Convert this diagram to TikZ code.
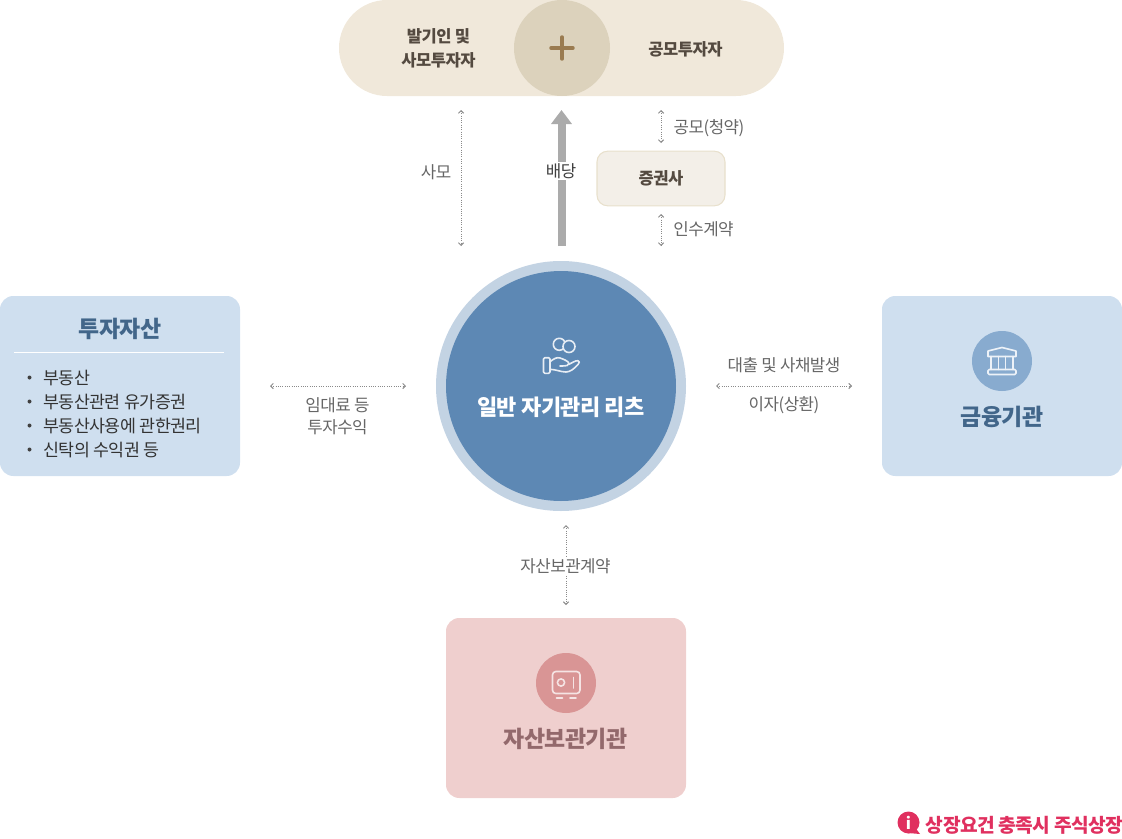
\documentclass[tikz,border=0pt]{standalone}
\usepackage{fontspec}
\setmainfont{Noto Sans CJK KR}[LetterSpace=-3]
\usetikzlibrary{arrows.meta}

\definecolor{pillbeige}{HTML}{F0E8DA}
\definecolor{plusbeige}{HTML}{DCD2BC}
\definecolor{plusbrown}{HTML}{9A7B50}
\definecolor{darktext}{HTML}{544A40}
\definecolor{graytext}{HTML}{666666}
\definecolor{dotgray}{HTML}{8A8A8A}
\definecolor{arrowgray}{HTML}{ABABAB}
\definecolor{brokerfill}{HTML}{F3EFE8}
\definecolor{brokerline}{HTML}{E8E0CC}
\definecolor{boxblue}{HTML}{CFDFEF}
\definecolor{ringblue}{HTML}{C3D3E3}
\definecolor{reitblue}{HTML}{5D88B4}
\definecolor{iconblue}{HTML}{88ABCF}
\definecolor{titleblue}{HTML}{42668A}
\definecolor{boxpink}{HTML}{EFCFCE}
\definecolor{iconpink}{HTML}{D99595}
\definecolor{titlepink}{HTML}{93696C}
\definecolor{notered}{HTML}{E0305F}

\tikzset{
	owner/.style={font=\fontsize{12.4}{18}\bfseries, text=darktext, align=center},
	flowlabel/.style={font=\fontsize{12.6}{16.5}\selectfont, text=graytext, align=center},
	listitem/.style={font=\fontsize{13}{14}\selectfont, text=black!80, anchor=west},
	bigbox/.style={minimum width=180pt, minimum height=135pt, rounded corners=10pt, inner sep=0pt},
	iconcircle/.style={circle, minimum size=45pt, inner sep=0pt},
	boxtitle/.style={font=\fontsize{17.2}{20}\bfseries},
	dotflow/.style={dotgray, line width=.7pt, densely dotted, {Straight Barb[length=2pt,width=4pt]}-{Straight Barb[length=2pt,width=4pt]}},
	iconline/.style={line width=1.2pt, line join=round, line cap=round}
}

\begin{document}
\begin{tikzpicture}[x=.75pt, y=-.75pt]

	\useasboundingbox (0,0) rectangle (1122,839);

	% investors
	\node[fill=pillbeige, minimum width=333.75pt, minimum height=72pt, rounded corners=36pt, inner sep=0pt] (investors) at (561.5,48) {};
	\node[fill=plusbeige, circle, minimum size=72pt, inner sep=0pt] (plus) at (562,48) {};
	\draw[plusbrown, line width=2.6pt, line cap=round] (551,48) -- (573,48);
	\draw[plusbrown, line width=2.6pt, line cap=round] (562,37) -- (562,59);
	\node[owner] (founders) at (438.5,48.5) {발기인 및\\사모투자자};
	\node[owner] (public) at (685.5,49) {공모투자자};

	% broker
	\node[fill=brokerfill, draw=brokerline, line width=.8pt, minimum width=96pt, minimum height=41pt, rounded corners=8pt, inner sep=0pt, owner] (broker) at (661,178.5) {\raisebox{-.5pt}{증권사}};

	% centre
	\node[fill=ringblue, circle, minimum size=187.5pt, inner sep=0pt] (ring) at (561,386) {};
	\node[fill=reitblue, circle, minimum size=172.5pt, inner sep=0pt] (reit) at (561,386) {};
	\node[font=\fontsize{16.5}{20}\bfseries, text=white] (reitname) at (561,407) {일반 자기관리 리츠};

	\begin{scope}[iconline, draw=white!85!reitblue]
		\draw (559.3,344.3) circle[radius=6];
		\draw[fill=reitblue] (569,346.5) circle[radius=6];
		\draw[rounded corners=1pt] (543.5,357.7) rectangle (550,373.3);
		\draw (550,361.7) .. controls (554,358.5) and (557,357) .. (560,358) .. controls (563,359) and (568.5,361) .. (569,363.5) .. controls (569,365.5) and (567,366) .. (560,366);
		\draw (568.5,364.5) .. controls (572,363) and (575,360.5) .. (578,360.7) .. controls (580,361) and (579.5,363) .. (578,364.5) .. controls (574,369) and (570,372) .. (566,372) .. controls (561,372) and (556,369.5) .. (550,369.3);
	\end{scope}

	% investment assets
	\node[fill=boxblue, bigbox] (assets) at (120,386) {};
	\node[boxtitle, text=titleblue] (assetstitle) at (120,328.5) {투자자산};
	\coordinate (rulel) at (14,352.5);
	\coordinate (ruler) at (224,352.5);
	\draw[white, line width=.75pt] (rulel) -- (ruler);
	\foreach \y/\t [count=\i] in {377/부동산, 401/부동산관련 유가증권, 425/부동산사용에 관한권리, 449/신탁의 수익권 등}{
		\node[fill=black!75, circle, minimum size=3pt, inner sep=0pt] (bullet\i) at (29.5,\y+.5) {};
		\node[listitem] (item\i) at (38.5,\y+1) {\t};
	}

	% bank
	\node[fill=boxblue, bigbox] (bank) at (1002,386) {};
	\node[fill=iconblue, iconcircle] (bankicon) at (1002,361) {};
	\node[boxtitle, text=titleblue] (banktitle) at (1002,416.5) {금융기관};
	\begin{scope}[iconline, draw=white!85!iconblue]
		\draw (988,351) -- (1002,347.5) -- (1016,351) -- (1016,356.5) -- (988,356.5) -- cycle;
		\foreach \x in {991,998.3,1005.5,1013}{
			\draw (\x,356.5) -- (\x,369.5);
		}
		\draw[rounded corners=1pt] (988,369.5) rectangle (1016,374.5);
	\end{scope}

	% custodian
	\node[fill=boxpink, bigbox] (custodian) at (566,708) {};
	\node[fill=iconpink, iconcircle] (safeicon) at (566,683) {};
	\node[boxtitle, text=titlepink] (custodiantitle) at (565.5,738.5) {자산보관기관};
	\begin{scope}[iconline, draw=white!75!iconpink]
		\draw[rounded corners=2.5pt] (552.5,671.5) rectangle (580,693.5);
		\draw (561,682.5) circle[radius=3.6];
		\draw (573.5,677.5) -- (573.5,688);
		\draw (556.5,698) -- (562.5,698);
		\draw (570,698) -- (576,698);
	\end{scope}

	% flows
	\coordinate (privatetop) at (461,110);
	\coordinate (privatebot) at (461,246);
	\coordinate (publictop) at (661,110);
	\coordinate (publicbot) at (661,143);
	\coordinate (underwritetop) at (661,214);
	\coordinate (underwritebot) at (661,246);
	\coordinate (rentleft) at (270,386);
	\coordinate (rentright) at (406,386);
	\coordinate (loanleft) at (716,386);
	\coordinate (loanright) at (852,386);
	\coordinate (custodytop) at (566,525);
	\coordinate (custodybot) at (566,605);
	\coordinate (dividendbot) at (561.5,246);
	\coordinate (dividendtop) at (561.5,110);

	\draw[dotflow] (privatetop) -- (privatebot);
	\draw[dotflow] (publictop) -- (publicbot);
	\draw[dotflow] (underwritetop) -- (underwritebot);
	\draw[dotflow] (rentleft) -- (rentright);
	\draw[dotflow] (loanleft) -- (loanright);
	\draw[dotflow] (custodytop) -- (custodybot);
	\draw[arrowgray, line width=6pt, -{Triangle[length=10.5pt,width=15pt]}] (dividendbot) -- (dividendtop);

	\node[flowlabel] (privatelabel) at (436,172) {사모};
	\node[flowlabel, fill=white, inner sep=1pt, inner xsep=0pt, text=black!75] (dividendlabel) at (561,171) {배당};
	\node[flowlabel] (publiclabel) at (709,128) {공모(청약)};
	\node[flowlabel] (underwritelabel) at (703.5,229) {인수계약};
	\node[flowlabel] (rentlabel) at (337.5,416) {임대료 등\\투자수익};
	\node[flowlabel] (loanlabel) at (784,365) {대출 및 사채발생};
	\node[flowlabel] (interestlabel) at (784,405) {이자(상환)};
	\node[flowlabel, fill=white, inner sep=1pt] (custodylabel) at (565.5,566) {자산보관계약};

	% listing note
	\node[fill=notered, circle, minimum size=16.5pt, inner sep=0pt] (noteicon) at (908.5,822.5) {};
	\coordinate (tailtop) at (914,826);
	\coordinate (tailtip) at (920,834);
	\coordinate (tailbot) at (908,833);
	\fill[notered] (tailtop) -- (tailtip) -- (tailbot) -- cycle;
	\node[font=\fontsize{12}{12}\bfseries, text=white, inner sep=0pt] (noteletter) at (908.5,823) {i};
	\node[font=\fontsize{14.4}{16}\bfseries, text=notered, anchor=east, inner sep=0pt] (notetext) at (1123.5,825.5) {상장요건 충족시 주식상장};

\end{tikzpicture}
\end{document}
